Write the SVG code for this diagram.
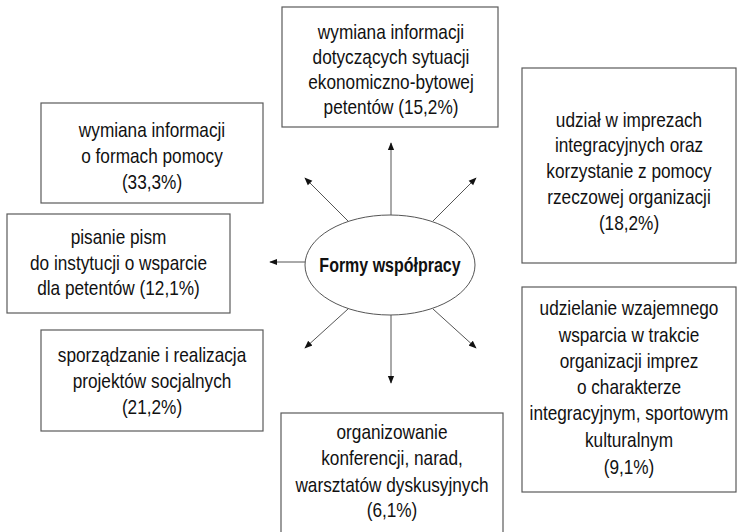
<svg xmlns="http://www.w3.org/2000/svg" width="740" height="532" viewBox="0 0 740 532">
<style>
.box{fill:#fff;stroke:#5a5a5a;stroke-width:1.2}
.t{font-family:"Liberation Sans",Arial,sans-serif;font-size:21px;fill:#111;text-anchor:middle}
.title{font-weight:bold;font-size:19.5px}
.c{stroke:#555;stroke-width:1;fill:none;marker-end:url(#ah)}
</style>
<defs>
<marker id="ah" viewBox="0 0 10 10" refX="9" refY="5" markerWidth="8" markerHeight="8" markerUnits="userSpaceOnUse" orient="auto">
<path d="M0,1 L10,5 L0,9 Z" fill="#111"/>
</marker>
</defs>
<rect width="740" height="532" fill="#fff"/>
<g id="connectors">
<line class="c" x1="391" y1="215" x2="391" y2="143"/>
<line class="c" x1="348" y1="221" x2="305" y2="178"/>
<line class="c" x1="433" y1="221" x2="476" y2="178"/>
<line class="c" x1="305" y1="262" x2="270" y2="262"/>
<line class="c" x1="348" y1="309" x2="305" y2="348"/>
<line class="c" x1="433" y1="309" x2="476" y2="348"/>
<line class="c" x1="391" y1="315" x2="391" y2="383"/>
</g>
<g id="center">
<ellipse cx="390" cy="265" rx="85" ry="50" fill="#fff" stroke="#555" stroke-width="1"/>
<g transform="translate(390,0) scale(0.82,1)">
<text class="t title" x="0" y="272">Formy współpracy</text>
</g>
</g>
<g id="n-top">
<rect class="box" x="282" y="7" width="216" height="120"/>
<g transform="translate(391,0) scale(0.82,1)">
<text class="t" x="0" y="39">wymiana informacji</text>
<text class="t" x="0" y="64">dotyczących sytuacji</text>
<text class="t" x="0" y="89">ekonomiczno-bytowej</text>
<text class="t" x="0" y="114">petentów (15,2%)</text>
</g>
</g>
<g id="n-ul">
<rect class="box" x="41" y="103" width="222" height="100"/>
<g transform="translate(152,0) scale(0.82,1)">
<text class="t" x="0" y="137">wymiana informacji</text>
<text class="t" x="0" y="163">o formach pomocy</text>
<text class="t" x="0" y="189">(33,3%)</text>
</g>
</g>
<g id="n-ml">
<rect class="box" x="7" y="214" width="223" height="99"/>
<g transform="translate(118.5,0) scale(0.82,1)">
<text class="t" x="0" y="244">pisanie pism</text>
<text class="t" x="0" y="270">do instytucji o wsparcie</text>
<text class="t" x="0" y="295">dla petentów (12,1%)</text>
</g>
</g>
<g id="n-ll">
<rect class="box" x="41" y="330" width="222" height="101"/>
<g transform="translate(152,0) scale(0.82,1)">
<text class="t" x="0" y="362">sporządzanie i realizacja</text>
<text class="t" x="0" y="388">projektów socjalnych</text>
<text class="t" x="0" y="414">(21,2%)</text>
</g>
</g>
<g id="n-bottom">
<rect class="box" x="281" y="413" width="222" height="125"/>
<g transform="translate(392,0) scale(0.82,1)">
<text class="t" x="0" y="439">organizowanie</text>
<text class="t" x="0" y="465">konferencji, narad,</text>
<text class="t" x="0" y="492">warsztatów dyskusyjnych</text>
<text class="t" x="0" y="517">(6,1%)</text>
</g>
</g>
<g id="n-ru">
<rect class="box" x="522" y="68" width="214" height="195"/>
<g transform="translate(629,0) scale(0.82,1)">
<text class="t" x="0" y="127">udział w imprezach</text>
<text class="t" x="0" y="152">integracyjnych oraz</text>
<text class="t" x="0" y="178">korzystanie z pomocy</text>
<text class="t" x="0" y="204">rzeczowej organizacji</text>
<text class="t" x="0" y="230">(18,2%)</text>
</g>
</g>
<g id="n-rl">
<rect class="box" x="522" y="287" width="214" height="205"/>
<g transform="translate(629,0) scale(0.82,1)">
<text class="t" x="0" y="315">udzielanie wzajemnego</text>
<text class="t" x="0" y="342">wsparcia w trakcie</text>
<text class="t" x="0" y="368">organizacji imprez</text>
<text class="t" x="0" y="394">o charakterze</text>
<text class="t" x="0" y="420">integracyjnym, sportowym</text>
<text class="t" x="0" y="447">kulturalnym</text>
<text class="t" x="0" y="474">(9,1%)</text>
</g>
</g>
</svg>
